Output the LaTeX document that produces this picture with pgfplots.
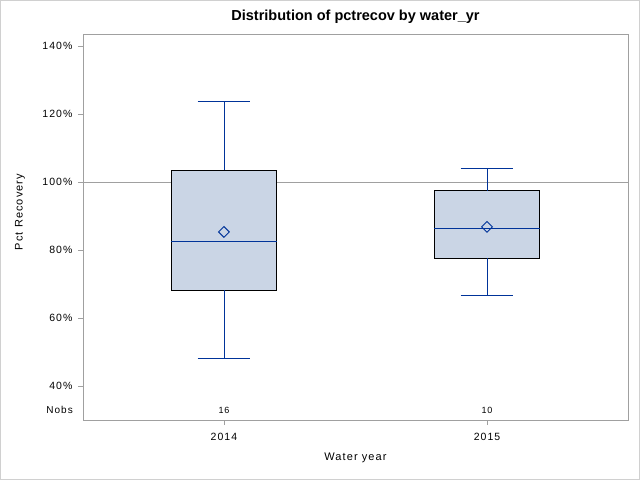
\documentclass[border=0pt]{standalone}
\usepackage{fontspec}
\setmainfont{Liberation Sans}
\newfontfamily\spaced[LetterSpace=10]{Liberation Sans}
\usepackage{pgfplots}
\pgfplotsset{compat=1.18}

\definecolor{boxfill}{RGB}{202,213,229}
\definecolor{sasblue}{RGB}{0,51,153}
\definecolor{framegray}{RGB}{160,160,160}
\definecolor{bordergray}{RGB}{208,208,208}

\pgfplotsset{
  whisk/.style={sasblue, line width=0.9pt, forget plot},
  boxbody/.style={draw=black, fill=boxfill, line width=0.9pt, forget plot},
}

\begin{document}
\begin{tikzpicture}
\useasboundingbox (0pt,0pt) rectangle (640pt,480pt);
\draw[bordergray, line width=1pt] (0.5pt,0.5pt) rectangle (639.5pt,479.5pt);
\begin{axis}[
  at={(83pt,60pt)}, anchor=south west,
  width=545pt, height=386pt, scale only axis,
  xmin=0.464, xmax=2.536, ymin=30, ymax=143.53,
  clip=false,
  xtick={1,2}, xticklabels={2014,2015},
  ytick={40,60,80,100,120,140},
  yticklabels={40\%,60\%,80\%,100\%,120\%,140\%},
  tick pos=left, tick align=outside, major tick length=5pt,
  axis line style={framegray, line width=0.8pt},
  every tick/.style={framegray, line width=0.8pt},
  tick label style={font=\spaced\fontsize{10.5}{12.5}\selectfont, text=black},
  yticklabel style={xshift=-2pt},
  xticklabel style={yshift=-5pt},
  title={Distribution of pctrecov by water\_yr},
  title style={at={(axis description cs:0.5,1.019)}, anchor=base,
    font=\bfseries\fontsize{14.5}{17}\selectfont},
  xlabel={Water year}, ylabel={Pct Recovery},
  label style={font=\spaced\fontsize{11}{13}\selectfont},
  xlabel style={at={(axis description cs:0.5,-0.0984)}, anchor=center},
  ylabel style={at={(axis description cs:-0.1156,0.539)}, anchor=center},
]
% reference line at 100%
\addplot[framegray, line width=0.8pt, forget plot] coordinates {(0.464,100) (2.536,100)};

% 2014: q1=68.2 median=82.6 q3=103.5 whiskers 48.2 / 123.8
\addplot[boxbody] coordinates {(0.8,68.2) (1.2,68.2) (1.2,103.5) (0.8,103.5) (0.8,68.2)};
\addplot[whisk] coordinates {(0.8,82.6) (1.2,82.6)};
\addplot[whisk] coordinates {(1,103.5) (1,123.8)};
\addplot[whisk] coordinates {(0.9,123.8) (1.1,123.8)};
\addplot[whisk] coordinates {(1,68.2) (1,48.2)};
\addplot[whisk] coordinates {(0.9,48.2) (1.1,48.2)};

% 2015: q1=77.6 median=86.2 q3=97.4 whiskers 66.5 / 104.1
\addplot[boxbody] coordinates {(1.8,77.6) (2.2,77.6) (2.2,97.4) (1.8,97.4) (1.8,77.6)};
\addplot[whisk] coordinates {(1.8,86.2) (2.2,86.2)};
\addplot[whisk] coordinates {(2,97.4) (2,104.1)};
\addplot[whisk] coordinates {(1.9,104.1) (2.1,104.1)};
\addplot[whisk] coordinates {(2,77.6) (2,66.5)};
\addplot[whisk] coordinates {(1.9,66.5) (2.1,66.5)};

% means
\addplot[only marks, mark=square, mark size=3.8pt,
  mark options={rotate=45, draw=sasblue, fill=none, line width=0.9pt}]
  coordinates {(1,85.3) (2,86.8)};

% observation counts
\node[font=\spaced\fontsize{9}{11}\selectfont] at (axis cs:1,32.94) {16};
\node[font=\spaced\fontsize{9}{11}\selectfont] at (axis cs:2,32.94) {10};
\node[font=\spaced\fontsize{10}{12}\selectfont, anchor=east, inner sep=0pt]
  at (axis cs:0.464,32.94) [xshift=-10pt] {Nobs};
\end{axis}
\end{tikzpicture}
\end{document}
